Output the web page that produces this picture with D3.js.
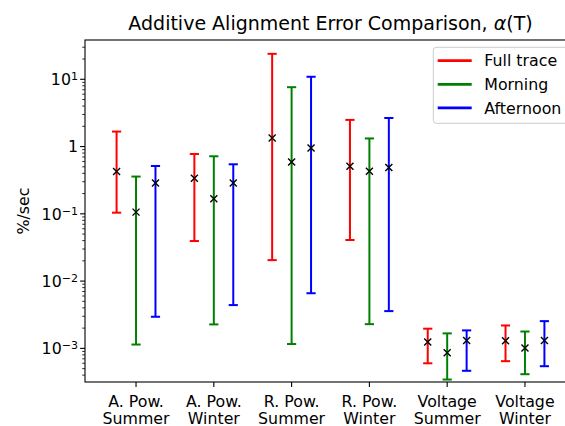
<!DOCTYPE html>
<html>
<head>
<meta charset="utf-8">
<script src="https://cdn.jsdelivr.net/npm/d3@7"></script>
<style>
  html, body { margin: 0; padding: 0; background: #fff; }
  svg { display: block; font-family: "DejaVu Sans", sans-serif; }
</style>
</head>
<body>
<div id="chart"></div>
<script>
// Data
const categories = [
    ["A. Pow.", "Summer"],
    ["A. Pow.", "Winter"],
    ["R. Pow.", "Summer"],
    ["R. Pow.", "Winter"],
    ["Voltage", "Summer"],
    ["Voltage", "Winter"]
];
const seriesNames = ["Full trace", "Morning", "Afternoon"];
const seriesColors = ["#ff0000", "#008000", "#0000ff"];
const seriesOffsets = [-0.25, 0, 0.25];

const fullMid   = [0.425, 0.337, 1.34, 0.509, 1.24e-3, 1.30e-3];
const fullLow   = [0.104, 0.0394, 0.0205, 0.0408, 6.0e-4, 6.45e-4];
const fullHigh  = [1.67, 0.776, 23.9, 2.49, 1.96e-3, 2.19e-3];

const mornMid   = [0.106, 0.168, 0.59, 0.429, 8.6e-4, 1.01e-3];
const mornLow   = [1.14e-3, 2.27e-3, 1.16e-3, 2.29e-3, 3.44e-4, 4.13e-4];
const mornHigh  = [0.358, 0.717, 7.63, 1.32, 1.67e-3, 1.78e-3];

const aftMid    = [0.287, 0.287, 0.953, 0.487, 1.31e-3, 1.31e-3];
const aftLow    = [2.95e-3, 4.4e-3, 6.6e-3, 3.58e-3, 4.64e-4, 5.43e-4];
const aftHigh   = [0.514, 0.545, 10.9, 2.66, 1.85e-3, 2.54e-3];

const yTickValues = [1e-3, 1e-2, 1e-1, 1, 10];
const yTickLabels = [["10", "\u22123"], ["10", "\u22122"], ["10", "\u22121"], ["1", ""], ["10", "1"]];

const seriesData = [
    { mid: fullMid, low: fullLow, high: fullHigh },
    { mid: mornMid, low: mornLow, high: mornHigh },
    { mid: aftMid, low: aftLow, high: aftHigh }
];

function drawChart() {
    const width = 565, height = 426;
    const left = 85, right = 576, top = 40, bottom = 382;
    const fontSize = 15.8;

    const svg = d3.select("#chart")
        .append("svg")
        .attr("width", width)
        .attr("height", height);

    svg.append("rect")
        .attr("width", width)
        .attr("height", height)
        .attr("fill", "#fff");

    const x = d3.scaleLinear()
        .domain([-0.656, 5.656])
        .range([left, right]);

    const y = d3.scaleLog()
        .domain([Math.pow(10, -3.5), Math.pow(10, 1.584)])
        .range([bottom, top]);

    // minor ticks on log axis
    const minor = [];
    for (let e = -4; e <= 1; e++) {
        for (let m = 2; m <= 9; m++) {
            const v = m * Math.pow(10, e);
            if (v >= y.domain()[0] && v <= y.domain()[1]) minor.push(v);
        }
    }
    svg.append("g")
        .selectAll("line")
        .data(minor)
        .enter().append("line")
        .attr("x1", left - 2.8)
        .attr("x2", left)
        .attr("y1", d => y(d))
        .attr("y2", d => y(d))
        .attr("stroke", "#000")
        .attr("stroke-width", 0.8);

    // major y ticks
    const yTicks = svg.append("g")
        .selectAll("g")
        .data(yTickValues)
        .enter().append("g")
        .attr("transform", d => `translate(0,${y(d)})`);

    yTicks.append("line")
        .attr("x1", left - 4.9)
        .attr("x2", left)
        .attr("stroke", "#000")
        .attr("stroke-width", 1.1);

    const yLab = yTicks.append("text")
        .attr("x", left - 7)
        .attr("dy", "0.36em")
        .attr("text-anchor", "end")
        .attr("font-size", fontSize)
        .attr("fill", "#000");
    yLab.append("tspan").text((d, i) => yTickLabels[i][0]);
    yLab.append("tspan")
        .attr("dy", "-0.45em")
        .attr("font-size", fontSize * 0.7)
        .text((d, i) => yTickLabels[i][1]);

    // x ticks
    const xTicks = svg.append("g")
        .selectAll("g")
        .data(categories)
        .enter().append("g")
        .attr("transform", (d, i) => `translate(${x(i)},0)`);

    xTicks.append("line")
        .attr("y1", bottom)
        .attr("y2", bottom + 4.9)
        .attr("stroke", "#000")
        .attr("stroke-width", 1.1);

    xTicks.append("text")
        .attr("y", 406.5)
        .attr("text-anchor", "middle")
        .attr("font-size", fontSize)
        .text(d => d[0]);

    xTicks.append("text")
        .attr("y", 424.2)
        .attr("text-anchor", "middle")
        .attr("font-size", fontSize)
        .text(d => d[1]);

    // error bars
    seriesData.forEach((s, k) => {
        const g = svg.append("g");
        const color = seriesColors[k];
        const px = i => x(i + seriesOffsets[k]);

        g.selectAll(".bar")
            .data(s.mid)
            .enter().append("line")
            .attr("x1", (d, i) => px(i))
            .attr("x2", (d, i) => px(i))
            .attr("y1", (d, i) => y(s.low[i]))
            .attr("y2", (d, i) => y(s.high[i]))
            .attr("stroke", color)
            .attr("stroke-width", 2);

        ["low", "high"].forEach(key => {
            g.selectAll(".cap-" + key)
                .data(s[key])
                .enter().append("line")
                .attr("x1", (d, i) => px(i) - 4.6)
                .attr("x2", (d, i) => px(i) + 4.6)
                .attr("y1", d => y(d))
                .attr("y2", d => y(d))
                .attr("stroke", color)
                .attr("stroke-width", 2);
        });

        g.selectAll(".marker")
            .data(s.mid)
            .enter().append("path")
            .attr("d", (d, i) => {
                const cx = px(i), cy = y(d), r = 3.5;
                return `M${cx - r},${cy - r}L${cx + r},${cy + r}M${cx - r},${cy + r}L${cx + r},${cy - r}`;
            })
            .attr("stroke", "#000")
            .attr("stroke-width", 1.4)
            .attr("fill", "none");
    });

    // frame
    svg.append("rect")
        .attr("x", left)
        .attr("y", top)
        .attr("width", right - left)
        .attr("height", bottom - top)
        .attr("fill", "none")
        .attr("stroke", "#000")
        .attr("stroke-width", 1.1);

    // legend
    const legend = svg.append("g");
    legend.append("rect")
        .attr("x", 433.3)
        .attr("y", 47.3)
        .attr("width", 136)
        .attr("height", 76)
        .attr("rx", 3)
        .attr("fill", "#fff")
        .attr("fill-opacity", 0.8)
        .attr("stroke", "#cccccc")
        .attr("stroke-width", 1);

    const items = legend.selectAll(".item")
        .data(seriesNames)
        .enter().append("g")
        .attr("transform", (d, i) => `translate(0,${60.7 + i * 23.6})`);

    items.append("line")
        .attr("x1", 437.7)
        .attr("x2", 471.7)
        .attr("stroke", (d, i) => seriesColors[i])
        .attr("stroke-width", 2.8);

    items.append("text")
        .attr("x", 484.3)
        .attr("dy", "0.36em")
        .attr("font-size", fontSize)
        .text(d => d);

    // title
    const title = svg.append("text")
        .attr("x", (left + right) / 2)
        .attr("y", 30)
        .attr("text-anchor", "middle")
        .attr("font-size", 19);
    title.append("tspan").text("Additive Alignment Error Comparison, ");
    title.append("tspan").attr("font-style", "italic").text("\u03b1");
    title.append("tspan").text("(T)");

    // y label
    svg.append("text")
        .attr("transform", `translate(29,${(top + bottom) / 2}) rotate(-90)`)
        .attr("text-anchor", "middle")
        .attr("font-size", fontSize)
        .text("%/sec");
}

document.addEventListener('DOMContentLoaded', drawChart);
</script>
</body>
</html>
